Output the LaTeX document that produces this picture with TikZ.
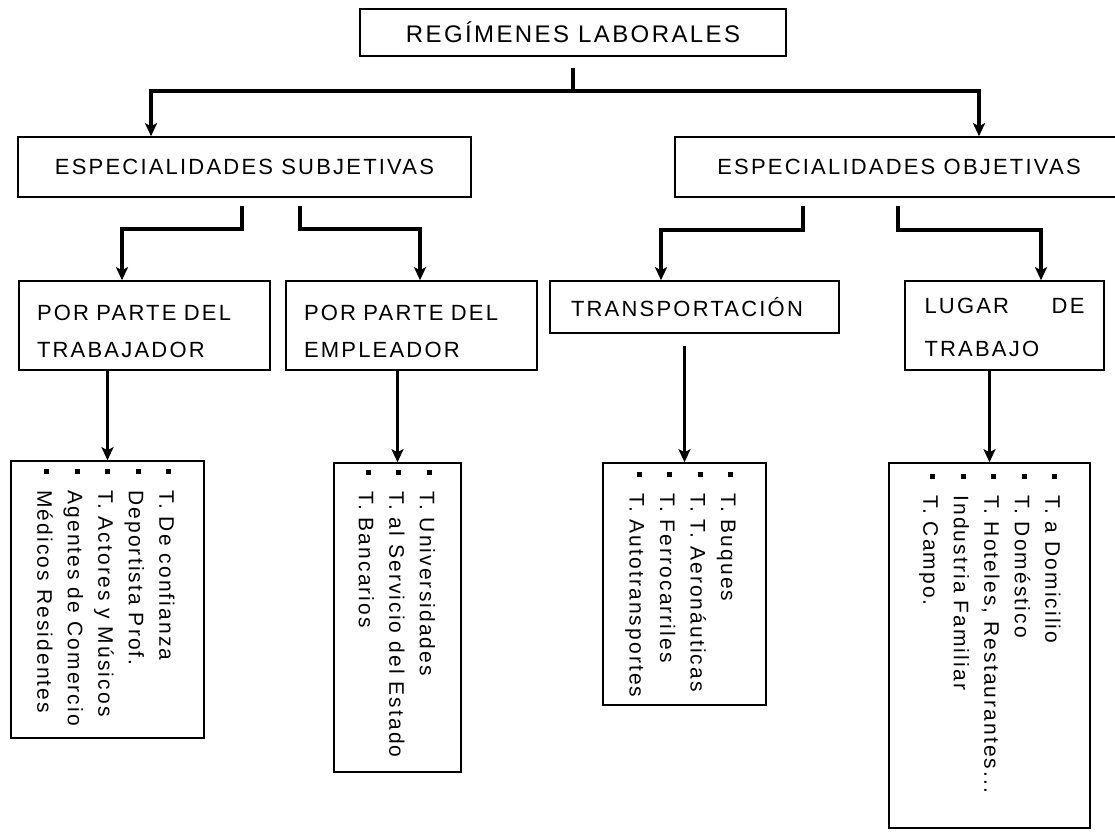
\documentclass[tikz,border=0pt]{standalone}
\usepackage{fontspec}
\setmainfont{Liberation Sans}[LetterSpace=10]
\usetikzlibrary{arrows.meta}
\newcommand{\itm}{\makebox[21.5pt][l]{\rule[7pt]{5pt}{5pt}}}
\newcommand{\lift}[1]{\rule{0pt}{#1}}
\begin{document}
\begin{tikzpicture}[x=1pt,y=-1pt,
  box/.style={draw,line width=1.6pt,inner sep=0pt,font=\fontsize{22}{37}\selectfont},
  lst/.style={rotate=-90,anchor=north west,align=left,inner sep=0pt,font=\fontsize{21}{30.5}\selectfont},
  link/.style={line width=3.5pt,-{Stealth[length=13pt,width=12pt,inset=3pt]}}]
\clip (0,0) rectangle (1115,831);
\fill[white] (0,0) rectangle (1115,831);
\node[box,minimum width=426pt,minimum height=47pt,font=\fontsize{24}{28}\selectfont] (root) at (573,32.5){REGÍMENES LABORALES};
\node[box,minimum width=453pt,minimum height=60pt] (subj) at (244.5,167){ESPECIALIDADES SUBJETIVAS};
\node[box,minimum width=448pt,minimum height=60pt] (obj) at (899,167){ESPECIALIDADES OBJETIVAS};
\node[box,minimum width=251pt,minimum height=89pt,text width=215pt,align=left] (trab) at (144.5,325.5){\lift{28pt}POR PARTE DEL\\TRABAJADOR};
\node[box,minimum width=251pt,minimum height=89pt,text width=215pt,align=left] (emp) at (411.5,325.5){\lift{28pt}POR PARTE DEL\\EMPLEADOR};
\node[box,minimum width=289pt,minimum height=52pt,text width=247pt,align=left] (transp) at (694.5,307){TRANSPORTACIÓN};
\node[box,minimum width=199pt,minimum height=89pt,text width=160pt,align=left,font=\fontsize{22}{43}\selectfont] (lugar) at (1004.5,325.5){\lift{20pt}LUGAR\hfill DE\\TRABAJO};
\node[box,minimum width=193pt,minimum height=277pt] (list1) at (107.5,599.5){};
\node[box,minimum width=127pt,minimum height=309pt] (list2) at (397.5,617.5){};
\node[box,minimum width=163pt,minimum height=242pt] (list3) at (684.5,584){};
\node[box,minimum width=201pt,minimum height=365pt] (list4) at (989.5,645.5){};
\node[lst] (items1) at ([xshift=-30pt,yshift=-8.5pt]list1.north east){\itm T. De confianza\\\itm Deportista Prof.\\\itm T. Actores y Músicos\\\itm Agentes de Comercio\\\itm Médicos Residentes};
\node[lst] (items2) at ([xshift=-26.5pt,yshift=-7.5pt]list2.north east){\itm T. Universidades\\\itm T. al Servicio del Estado\\\itm T. Bancarios};
\node[lst] (items3) at ([xshift=-31pt,yshift=-9.5pt]list3.north east){\itm T. Buques\\\itm T. T. Aeronáuticas\\\itm T. Ferrocarriles\\\itm T. Autotransportes};
\node[lst] (items4) at ([xshift=-30pt,yshift=-11.5pt]list4.north east){\itm T. a Domicilio\\\itm T. Doméstico\\\itm T. Hoteles, Restaurantes...\\\itm Industria Familiar\\\itm T. Campo.};
\draw[line width=3.5pt] ([yshift=-11pt]root.south) -- ([yshift=-34pt]root.south) coordinate (hub);
\draw[link] (hub) -| ([xshift=-93.5pt]subj.north);
\draw[link] (hub) -| ([xshift=80pt]obj.north);
\draw[link] ([xshift=-2.5pt,yshift=-8pt]subj.south) -- ++(0,23) -| ([xshift=-22.5pt]trab.north);
\draw[link] ([xshift=55.5pt,yshift=-8pt]subj.south) -- ++(0,23) -| ([xshift=8.5pt]emp.north);
\draw[link] ([xshift=-96pt,yshift=-8pt]obj.south) -- ++(0,24) -| ([xshift=-33.5pt]transp.north);
\draw[link] ([xshift=-1pt,yshift=-8pt]obj.south) -- ++(0,24) -| ([xshift=36.5pt]lugar.north);
\draw[link] (trab.south -| list1.north) -- (list1.north);
\draw[link] (emp.south -| list2.north) -- (list2.north);
\draw[link] (list3.north |- transp.south) ++(0,12) -- (list3.north);
\draw[link] (lugar.south -| list4.north) -- (list4.north);
\end{tikzpicture}
\end{document}
